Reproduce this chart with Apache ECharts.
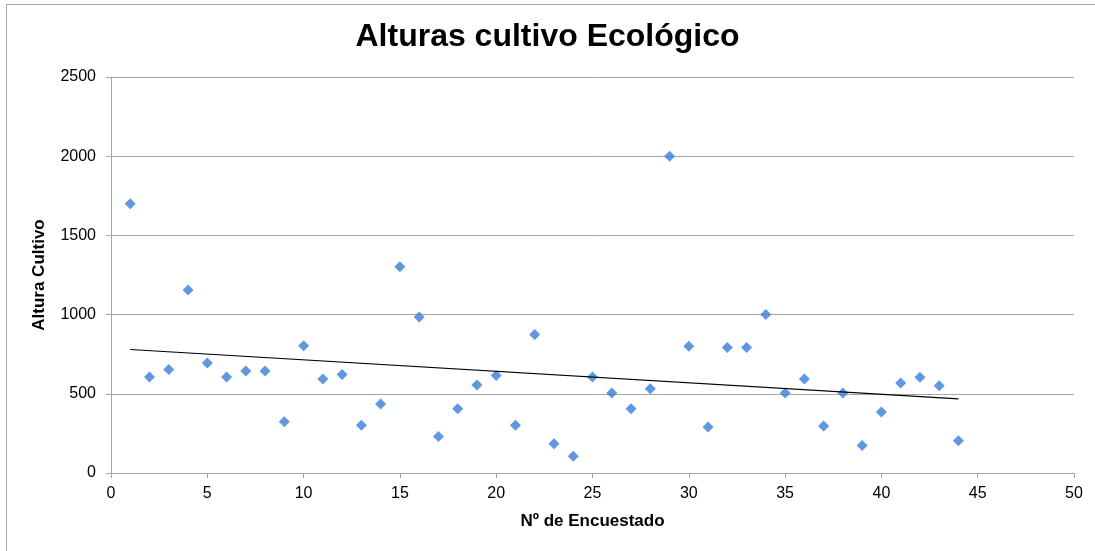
<!DOCTYPE html>
<html>
<head>
<meta charset="utf-8">
<script src="https://cdn.jsdelivr.net/npm/echarts@6/dist/echarts.min.js"></script>
<style>
  html, body { margin: 0; padding: 0; background: #fff; overflow: hidden; }
  #frame { position: absolute; left: 6px; top: 4px; width: 1200px; height: 700px; border: 1px solid #a6a6a6; }
  #chart { position: absolute; left: 0; top: 0; width: 1095px; height: 551px; }
</style>
</head>
<body>
<div id="frame"></div>
<div id="chart"></div>
<script>
const encuestado = [1, 2, 3, 4, 5, 6, 7, 8, 9, 10, 11, 12, 13, 14, 15, 16, 17, 18, 19, 20, 21, 22,
    23, 24, 25, 26, 27, 28, 29, 30, 31, 32, 33, 34, 35, 36, 37, 38, 39, 40, 41, 42, 43, 44];
const altura = [1700, 606, 654, 1155, 694, 606, 644, 644, 324, 804, 593, 622, 301, 435, 1302, 985, 231, 406, 555, 616, 301, 875,
    185, 105, 606, 505, 406, 532, 2000, 800, 290, 793, 793, 1000, 505, 593, 297, 505, 174, 385, 568, 604, 551, 204];

// linear trend line (least squares)
const n = encuestado.length;
let sx = 0, sy = 0, sxy = 0, sxx = 0;
for (let i = 0; i < n; i++) {
    sx += encuestado[i]; sy += altura[i];
    sxy += encuestado[i] * altura[i]; sxx += encuestado[i] * encuestado[i];
}
const slope = (n * sxy - sx * sy) / (n * sxx - sx * sx);
const intercept = (sy - slope * sx) / n;
const xFirst = encuestado[0], xLast = encuestado[n - 1];
const trend = [[xFirst, intercept + slope * xFirst], [xLast, intercept + slope * xLast]];

const points = encuestado.map((x, i) => [x, altura[i]]);

const myChart = echarts.init(document.getElementById('chart'));
const font = 'Liberation Sans, Arial, sans-serif';

const option = {
    animation: false,
    title: {
        text: 'Alturas cultivo Ecológico',
        left: 'center',
        top: 16,
        textStyle: { fontFamily: font, fontSize: 32, fontWeight: 'bold', color: '#000' }
    },
    grid: { left: 111, right: 21, top: 77, bottom: 78 },
    xAxis: {
        type: 'value',
        min: 0,
        max: 50,
        interval: 5,
        name: 'Nº de Encuestado',
        nameLocation: 'middle',
        nameGap: 40,
        nameTextStyle: { fontFamily: font, fontSize: 17, fontWeight: 'bold', color: '#000' },
        axisLine: { lineStyle: { color: '#a6a6a6' } },
        axisTick: { show: true, length: 5, lineStyle: { color: '#a6a6a6' } },
        axisLabel: { fontFamily: font, fontSize: 16, color: '#000', margin: 13 },
        splitLine: { show: false }
    },
    yAxis: {
        type: 'value',
        min: 0,
        max: 2500,
        interval: 500,
        name: 'Altura Cultivo',
        nameLocation: 'middle',
        nameGap: 63,
        nameTextStyle: { fontFamily: font, fontSize: 17, fontWeight: 'bold', color: '#000' },
        axisLine: { show: true, lineStyle: { color: '#a6a6a6' } },
        axisTick: { show: true, length: 5, lineStyle: { color: '#a6a6a6' } },
        axisLabel: { fontFamily: font, fontSize: 16, color: '#000', margin: 15, formatter: v => String(v) },
        splitLine: { lineStyle: { color: '#a6a6a6' } }
    },
    series: [
        {
            type: 'scatter',
            data: points,
            symbol: 'diamond',
            symbolSize: 11,
            itemStyle: { color: '#3a7dd8' }
        },
        {
            type: 'line',
            data: trend,
            symbol: 'none',
            lineStyle: { color: '#000', width: 1.2 }
        }
    ]
};

myChart.setOption(option);
</script>
</body>
</html>
